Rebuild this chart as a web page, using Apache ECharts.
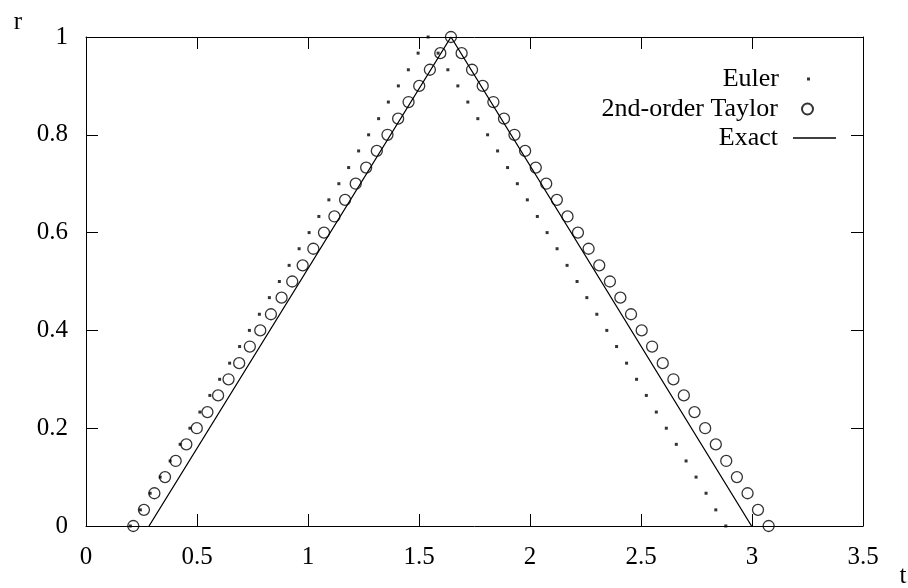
<!DOCTYPE html>
<html>
<head>
<meta charset="utf-8">
<script src="https://cdn.jsdelivr.net/npm/echarts@6/dist/echarts.min.js"></script>
<style>
  html, body { margin: 0; padding: 0; background: #fff; }
  #main { width: 908px; height: 588px; }
</style>
</head>
<body>
<div id="main"></div>
<script>
// r values shared by both numerical methods (up to the peak, then back down)
const rVals = [
  0, 0.033, 0.067, 0.1, 0.133, 0.167, 0.2, 0.233, 0.267, 0.3,
  0.333, 0.367, 0.4, 0.433, 0.467, 0.5, 0.533, 0.567, 0.6, 0.633,
  0.667, 0.7, 0.733, 0.767, 0.8, 0.833, 0.867, 0.9, 0.933, 0.967,
  1,
  0.967, 0.933, 0.9, 0.867, 0.833, 0.8, 0.767, 0.733, 0.7, 0.667,
  0.633, 0.6, 0.567, 0.533, 0.5, 0.467, 0.433, 0.4, 0.367, 0.333,
  0.3, 0.267, 0.233, 0.2, 0.167, 0.133, 0.1, 0.067, 0.033, 0
];

// Euler points: t
const eulerT = [
  0.2, 0.245, 0.289, 0.334, 0.379, 0.424, 0.468, 0.513, 0.558, 0.602,
  0.647, 0.692, 0.736, 0.781, 0.826, 0.871, 0.915, 0.96, 1.005, 1.049,
  1.094, 1.139, 1.183, 1.228, 1.273, 1.318, 1.362, 1.407, 1.452, 1.496,
  1.541,
  1.586, 1.63, 1.675, 1.72, 1.765, 1.809, 1.854, 1.899, 1.943, 1.988,
  2.033, 2.077, 2.122, 2.167, 2.212, 2.256, 2.301, 2.346, 2.39, 2.435,
  2.48, 2.524, 2.569, 2.614, 2.659, 2.703, 2.748, 2.793, 2.837, 2.882
];

// 2nd-order Taylor points: t
const taylorT = [
  0.213, 0.261, 0.308, 0.356, 0.404, 0.452, 0.499, 0.547, 0.595, 0.642,
  0.69, 0.738, 0.785, 0.833, 0.881, 0.929, 0.976, 1.024, 1.072, 1.119,
  1.167, 1.215, 1.262, 1.31, 1.358, 1.406, 1.453, 1.501, 1.549, 1.596,
  1.644,
  1.692, 1.739, 1.787, 1.835, 1.883, 1.93, 1.978, 2.026, 2.073, 2.121,
  2.169, 2.216, 2.264, 2.312, 2.36, 2.407, 2.455, 2.503, 2.55, 2.598,
  2.646, 2.693, 2.741, 2.789, 2.837, 2.884, 2.932, 2.98, 3.027, 3.075
];

// exact solution: straight segments
const exactT = [0.284, 1.644, 2.998];
const exactR = [0, 1, 0];

const xTicks = ["0", "0.5", "1", "1.5", "2", "2.5", "3", "3.5"];
const yTicks = ["0", "0.2", "0.4", "0.6", "0.8", "1"];

const FONT = "Liberation Serif";
const FS = 25;
const LFS = 26;

const zip = (a, b) => a.map((v, i) => [v, b[i]]);

const chart = echarts.init(document.getElementById("main"), null, { renderer: "canvas" });

const axisBase = {
  type: "value",
  axisLine: { show: true, onZero: false, lineStyle: { color: "#000", width: 1 } },
  axisTick: { show: true, inside: true, length: 12, lineStyle: { color: "#000", width: 1 } },
  splitLine: { show: false }
};

const legendBase = {
  orient: "vertical",
  align: "right",
  padding: 0,
  itemGap: 0,
  selectedMode: false,
  textStyle: { fontFamily: FONT, fontSize: LFS, color: "#000" }
};

chart.setOption({
  backgroundColor: "#fff",
  animation: false,
  // keep the plot box fixed, labels may sit near the canvas edge
  grid: { left: 86, right: 45, top: 37, bottom: 62, containLabel: false, outerBoundsMode: "none" },
  xAxis: [
    Object.assign({}, axisBase, {
      position: "bottom",
      min: 0, max: 3.5, interval: 0.5,
      name: "t",
      nameLocation: "end",
      nameGap: 40,
      nameTextStyle: { fontFamily: FONT, fontSize: FS, color: "#000", align: "center", verticalAlign: "top", padding: [38, 0, 0, 0] },
      axisLabel: {
        margin: 19, fontFamily: FONT, fontSize: FS, color: "#000",
        formatter: (v) => xTicks[Math.round(v / 0.5)]
      }
    }),
    Object.assign({}, axisBase, {
      position: "top",
      min: 0, max: 3.5, interval: 0.5,
      axisLabel: { show: false }
    })
  ],
  yAxis: [
    Object.assign({}, axisBase, {
      position: "left",
      min: 0, max: 1, interval: 0.2,
      name: "r",
      nameLocation: "end",
      nameGap: 2,
      nameTextStyle: { fontFamily: FONT, fontSize: FS, color: "#000", align: "right", padding: [0, 64, 0, 0] },
      axisLabel: {
        margin: 18, fontFamily: FONT, fontSize: FS, color: "#000",
        formatter: (v) => yTicks[Math.round(v / 0.2)]
      }
    }),
    Object.assign({}, axisBase, {
      position: "right",
      min: 0, max: 1, interval: 0.2,
      axisLabel: { show: false }
    })
  ],
  legend: [
    Object.assign({}, legendBase, {
      data: [{ name: "Euler", icon: "rect" }],
      right: 98, top: 66,
      itemWidth: 3, itemHeight: 3,
      textStyle: Object.assign({}, legendBase.textStyle, { padding: [0, 23, 0, 0] })
    }),
    Object.assign({}, legendBase, {
      data: [{ name: "2nd-order Taylor" }],
      right: 94, top: 96,
      itemWidth: 11, itemHeight: 11,
      textStyle: Object.assign({}, legendBase.textStyle, { padding: [0, 19, 0, 0] })
    }),
    Object.assign({}, legendBase, {
      data: [{ name: "Exact", icon: "rect" }],
      right: 72, top: 125,
      itemWidth: 43, itemHeight: 1.3,
      textStyle: Object.assign({}, legendBase.textStyle, { padding: [0, 10, 0, 0] })
    })
  ],
  series: [
    {
      name: "Exact",
      type: "line",
      data: zip(exactT, exactR),
      symbol: "none",
      lineStyle: { color: "#000", width: 1.3 },
      itemStyle: { color: "#000" },
      z: 2
    },
    {
      name: "Euler",
      type: "scatter",
      data: zip(eulerT, rVals),
      symbol: "rect",
      symbolSize: 3,
      itemStyle: { color: "#000" },
      z: 3
    },
    {
      name: "2nd-order Taylor",
      type: "scatter",
      data: zip(taylorT, rVals),
      symbol: "circle",
      symbolSize: 11,
      itemStyle: { color: "rgba(0,0,0,0)", borderColor: "#000", borderWidth: 1.3 },
      z: 4
    }
  ]
});
</script>
</body>
</html>
